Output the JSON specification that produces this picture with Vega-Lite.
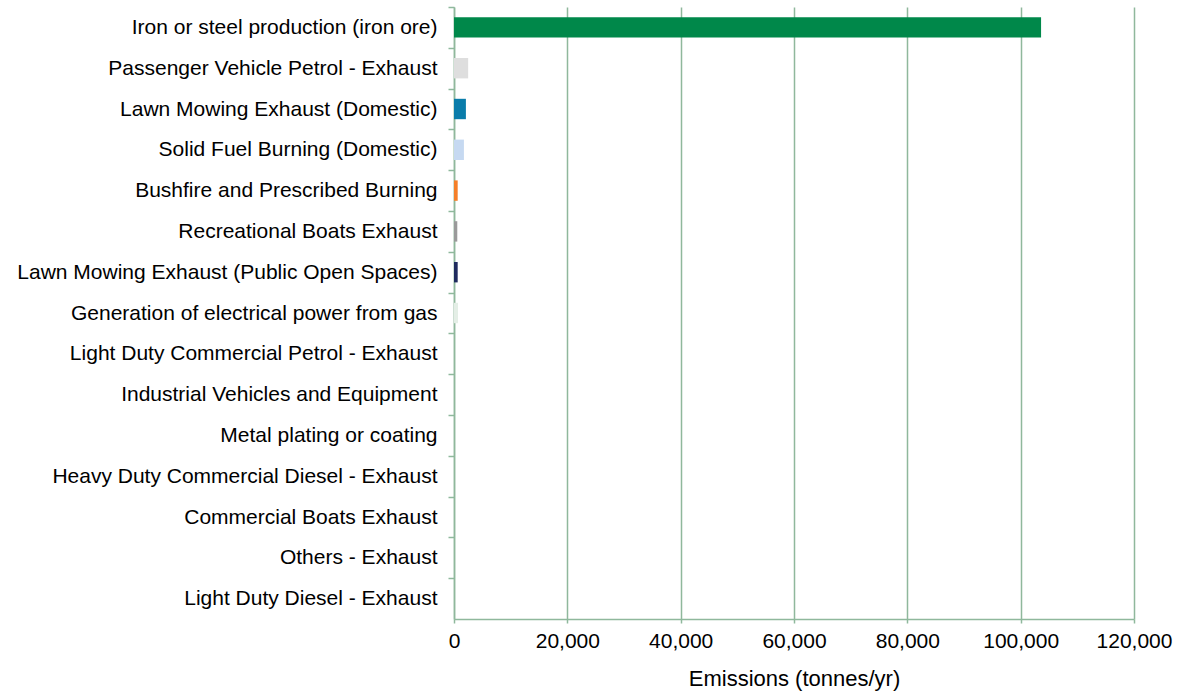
{
  "$schema": "https://vega.github.io/schema/vega-lite/v6.json",
  "width": 680,
  "height": 612,
  "autosize": {"type": "none"},
  "padding": {"left": 454, "top": 7, "right": 47, "bottom": 79},
  "background": "white",
  "config": {"view": {"stroke": null}, "font": "Liberation Sans"},
  "data": {"values": [
    {"source": "Iron or steel production (iron ore)", "emissions": 103600, "color": "#00884A"},
    {"source": "Passenger Vehicle Petrol - Exhaust", "emissions": 2500, "color": "#DEDEDE"},
    {"source": "Lawn Mowing Exhaust (Domestic)", "emissions": 2100, "color": "#0A7CAA"},
    {"source": "Solid Fuel Burning (Domestic)", "emissions": 1750, "color": "#C6D9F1"},
    {"source": "Bushfire and Prescribed Burning", "emissions": 650, "color": "#F57F29"},
    {"source": "Recreational Boats Exhaust", "emissions": 580, "color": "#9A9A9A"},
    {"source": "Lawn Mowing Exhaust (Public Open Spaces)", "emissions": 650, "color": "#1F2B5E"},
    {"source": "Generation of electrical power from gas", "emissions": 700, "color": "#E4EEE6"},
    {"source": "Light Duty Commercial Petrol - Exhaust", "emissions": 0, "color": "#CCCCCC"},
    {"source": "Industrial Vehicles and Equipment", "emissions": 0, "color": "#CCCCCC"},
    {"source": "Metal plating or coating", "emissions": 0, "color": "#CCCCCC"},
    {"source": "Heavy Duty Commercial Diesel - Exhaust", "emissions": 0, "color": "#CCCCCC"},
    {"source": "Commercial Boats Exhaust", "emissions": 0, "color": "#CCCCCC"},
    {"source": "Others - Exhaust", "emissions": 0, "color": "#CCCCCC"},
    {"source": "Light Duty Diesel - Exhaust", "emissions": 0, "color": "#CCCCCC"}
  ]},
  "mark": {"type": "bar"},
  "encoding": {
    "y": {
      "field": "source", "type": "nominal", "sort": null,
      "scale": {"paddingInner": 0.5, "paddingOuter": 0.25},
      "axis": {
        "title": null, "labelFontSize": 21, "labelColor": "#000000", "labelPadding": 11,
        "labelLimit": 460, "labelOffset": 20.4, "domainColor": "#8FB89C", "domainWidth": 1.5,
        "tickColor": "#8FB89C", "tickSize": 6, "tickWidth": 1.5, "tickOffset": -20.4, "grid": false
      }
    },
    "x": {
      "field": "emissions", "type": "quantitative",
      "scale": {"domain": [0, 120000], "nice": false},
      "axis": {
        "title": "Emissions (tonnes/yr)", "titleFontSize": 22, "titleFontWeight": "normal", "titleColor": "#000000",
        "titlePadding": 17, "values": [0, 20000, 40000, 60000, 80000, 100000, 120000], "format": ",d",
        "labelFontSize": 21, "labelColor": "#000000", "labelPadding": 7, "labelFlush": false,
        "grid": true, "gridColor": "#8FB89C", "gridWidth": 1.5, "gridOpacity": 1,
        "domainColor": "#8FB89C", "domainWidth": 1.5, "tickColor": "#8FB89C", "tickSize": 4, "tickWidth": 1.5
      }
    },
    "color": {"field": "color", "type": "nominal", "scale": null, "legend": null}
  }
}
